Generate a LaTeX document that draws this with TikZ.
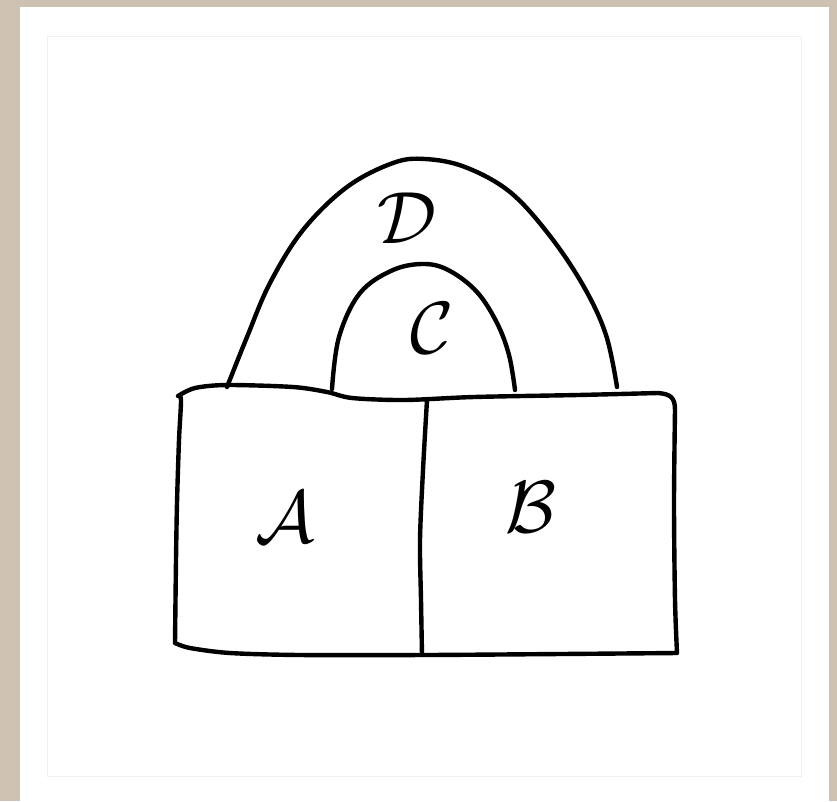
\documentclass[tikz,border=0pt]{standalone}
\begin{document}
\begin{tikzpicture}[x=1pt,y=-1pt,
  ink/.style={line width=4.4pt,line cap=round,line join=round,black},
  lbl/.style={scale=7.4,inner sep=0pt}]
\definecolor{beige}{RGB}{205,194,178}
\definecolor{faint}{RGB}{240,240,240}
\useasboundingbox (0,0) rectangle (837,801);
\fill[beige] (0,0) rectangle (837,801);
\fill[white] (20,7) rectangle (829,801);
\draw[faint,line width=1pt] (47,36) rectangle (801,776);
% outer arc D
\draw[ink] plot[smooth,tension=0.6] coordinates{(227,387) (247,337) (270,283) (303,230) (347,187) (393,163) (425,159) (465,167) (510,192) (550,236) (584,287) (606,335) (617,387)};
% inner arc C
\draw[ink] plot[smooth,tension=0.6] coordinates{(332,389) (339,337) (360,293) (393,270) (425,264) (450,271) (477,292) (497,323) (509,355) (515,390)};
% box outline
\draw[ink] plot[smooth,tension=0.5] coordinates{(178,396) (195,388) (227,385) (293,387) (327,392) (352,398) (404,400) (474,397) (578,395) (658,393)}
  .. controls (671,394) and (675,398) .. (675,410)
  plot[smooth,tension=0.5] coordinates{(675,410) (674,503) (675,600) (677,653)}
  plot[smooth,tension=0.5] coordinates{(677,653) (560,654) (425,655) (300,655) (230,653) (190,648) (175,643)}
  plot[smooth,tension=0.5] coordinates{(175,643) (176,560) (177,503) (179,440) (181,400) (178,396)};
% divider
\draw[ink] plot[smooth,tension=0.5] coordinates{(427,400) (423,470) (420,540) (421,600) (422,655)};
\node[lbl] (A) at (285,517) {$\mathcal{A}$};
\node[lbl] (B) at (531,507) {$\mathcal{B}$};
\node[lbl] (C) at (432,328) {$\mathcal{C}$};
\node[lbl] (D) at (407,218) {$\mathcal{D}$};
\end{tikzpicture}
\end{document}
